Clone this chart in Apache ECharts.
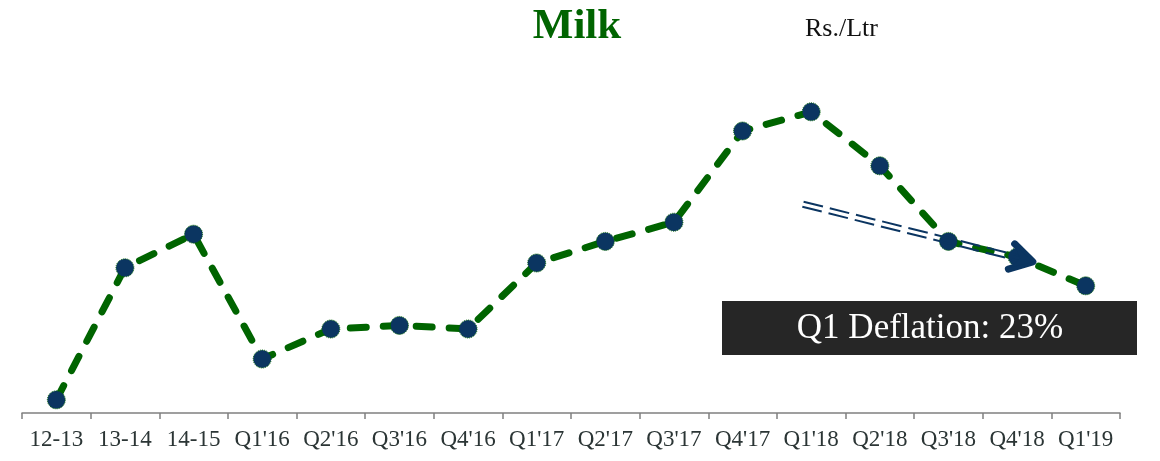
<!DOCTYPE html>
<html>
<head>
<meta charset="utf-8">
<script src="https://cdn.jsdelivr.net/npm/echarts@6/dist/echarts.min.js"></script>
<style>
  html, body { margin: 0; padding: 0; background: #fff; }
  #chart { width: 1160px; height: 461px; }
</style>
</head>
<body>
<div id="chart"></div>
<script>
var categories = ["12-13", "13-14", "14-15", "Q1'16", "Q2'16", "Q3'16", "Q4'16", "Q1'17", "Q2'17", "Q3'17", "Q4'17", "Q1'18", "Q2'18", "Q3'18", "Q4'18", "Q1'19"];
var milkPrice = [36.1, 47.1, 49.9, 39.5, 42.0, 42.3, 42.0, 47.5, 49.3, 50.9, 58.5, 60.1, 55.6, 49.3, 48.0, 45.6];
// trend arrow, in data units: [category index, value]
var arrowFrom = [10.88, 52.4];
var arrowTo = [14.23, 47.6];
var noteText = "Q1 Deflation: 23%";

var green = "#006400";
var navy = "#0b3561";
var serif = '"Liberation Serif", serif';

var myChart = echarts.init(document.getElementById('chart'));
var option = {
    animation: false,
    title: {
        text: 'Milk',
        left: 572,
        top: 0,
        textAlign: 'center',
        textStyle: { color: green, fontFamily: 'Liberation Serif', fontWeight: 900, fontSize: 43 }
    },
    grid: { left: 22, right: 40, top: 53, bottom: 48 },
    xAxis: {
        type: 'category',
        data: categories,
        boundaryGap: true,
        axisLine: { lineStyle: { color: '#808080', width: 1.5 } },
        axisTick: { show: true, length: 6, lineStyle: { color: '#808080', width: 1.5 } },
        axisLabel: { color: '#2b3535', fontFamily: 'Liberation Serif', fontSize: 23, margin: 15, interval: 0 }
    },
    yAxis: {
        type: 'value',
        min: 35,
        max: 65,
        show: false,
        splitLine: { show: false }
    },
    series: [{
        type: 'line',
        data: milkPrice,
        symbol: 'circle',
        symbolSize: 18,
        itemStyle: { color: navy, borderColor: green, borderWidth: 1, borderType: 'dotted' },
        lineStyle: { color: green, width: 7, type: [16, 17], cap: 'round', join: 'round' },
        z: 3
    }]
};
myChart.setOption(option);

// category axis snaps to whole indexes, so interpolate between neighbours
function toPixel(pt) {
    var i0 = Math.floor(pt[0]);
    var a = myChart.convertToPixel({ seriesIndex: 0 }, [i0, pt[1]]);
    var b = myChart.convertToPixel({ seriesIndex: 0 }, [i0 + 1, pt[1]]);
    var t = pt[0] - i0;
    return [a[0] + (b[0] - a[0]) * t, a[1]];
}
var p1 = toPixel(arrowFrom);
var p2 = toPixel(arrowTo);
var dx = p2[0] - p1[0], dy = p2[1] - p1[1];
var len = Math.sqrt(dx * dx + dy * dy);
var ux = dx / len, uy = dy / len;
var nx = -uy, ny = ux;
var off = 2.6;
var shaftEnd = [p2[0] - ux * 10, p2[1] - uy * 10];
function back(d, side) {
    return [p2[0] - ux * d + nx * side, p2[1] - uy * d + ny * side];
}
var graphics = [];
[-off, off].forEach(function (o) {
    graphics.push({
        type: 'line',
        z: 10,
        shape: { x1: p1[0] + nx * o, y1: p1[1] + ny * o, x2: shaftEnd[0] + nx * o, y2: shaftEnd[1] + ny * o },
        style: { stroke: navy, lineWidth: 2, lineDash: [20, 7] }
    });
});
graphics.push({
    type: 'polyline',
    z: 11,
    shape: { points: [back(22, -13), [p2[0], p2[1]], back(22, 13)] },
    style: { stroke: navy, lineWidth: 7, fill: null, lineCap: 'round', lineJoin: 'round' }
});
graphics.push({
    type: 'polygon',
    z: 11,
    shape: { points: [back(22, -12), [p2[0], p2[1]], back(22, 12), back(13, 0)] },
    style: { fill: navy }
});
graphics.push({
    type: 'text',
    z: 10,
    left: 805,
    top: 16,
    style: { text: 'Rs./Ltr', fill: '#111', font: '26px ' + serif }
});
graphics.push({
    type: 'group',
    left: 722,
    top: 301,
    z: 12,
    children: [{
        type: 'rect',
        shape: { x: 0, y: 0, width: 415, height: 54 },
        style: { fill: '#262626' }
    }, {
        type: 'text',
        style: {
            x: 208, y: 28, text: noteText, fill: '#fff',
            font: '35px ' + serif, align: 'center', verticalAlign: 'middle'
        }
    }]
});
myChart.setOption({ graphic: graphics });
</script>
</body>
</html>
